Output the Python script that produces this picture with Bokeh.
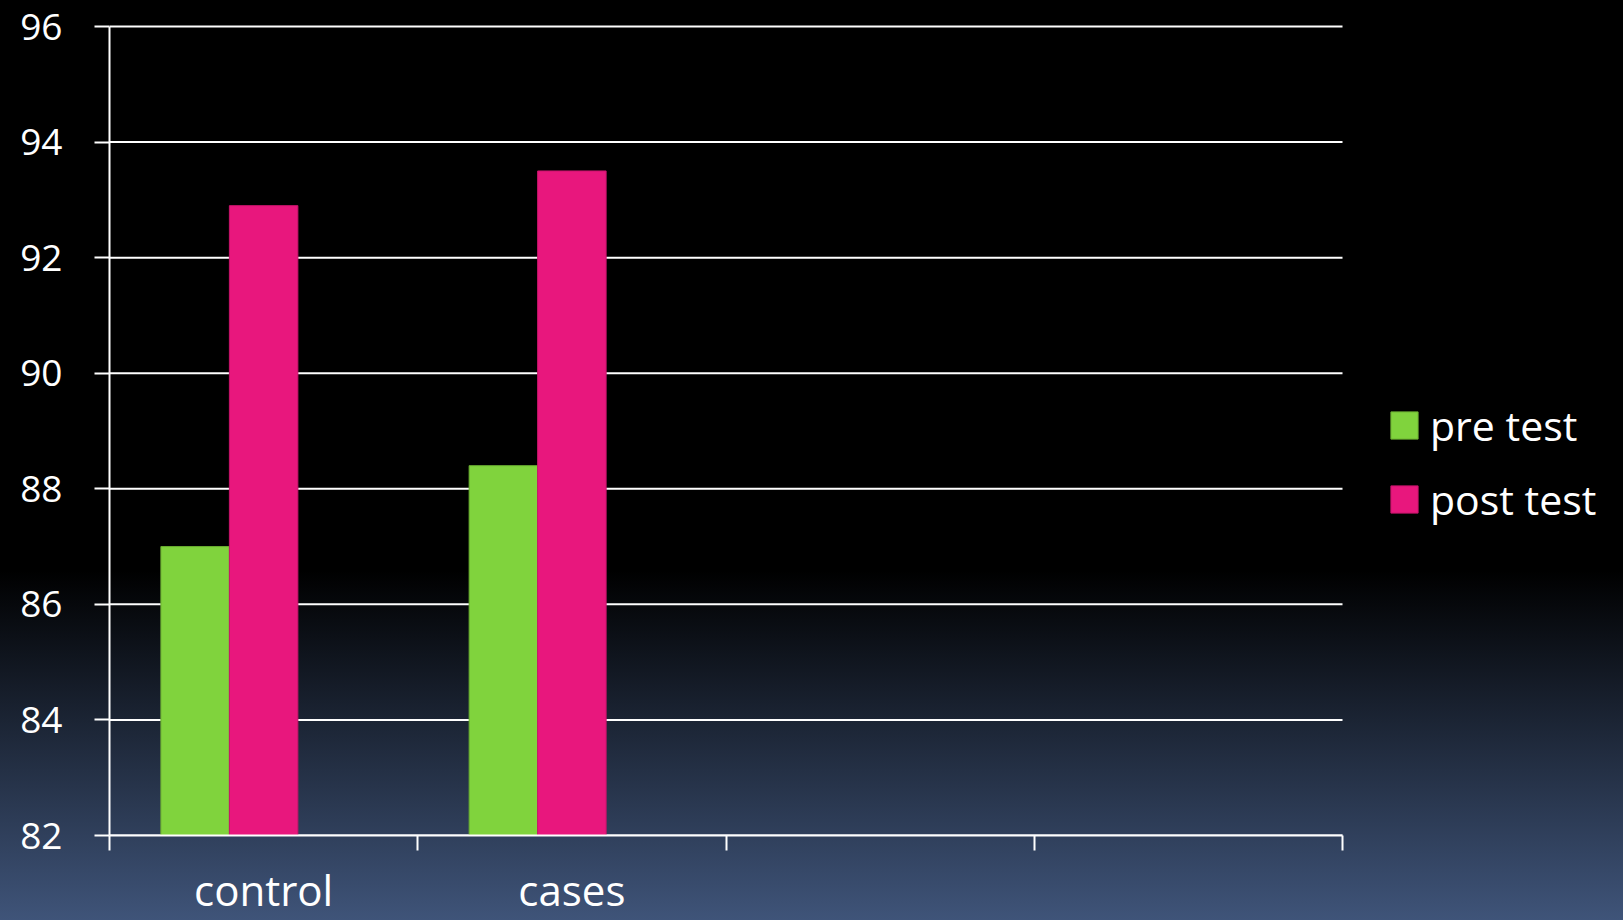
from bokeh.plotting import figure
from bokeh.models import (ColumnDataSource, FixedTicker, Legend, LegendItem, Range1d,
                          GlobalInlineStyleSheet)
from bokeh.embed import file_html
from bokeh.resources import INLINE

# ---- data ----
categories = ["control", "cases", "", ""]
series_names = ["pre test", "post test"]
pre_test = [87.0, 88.4]
post_test = [92.9, 93.5]
y_ticks = [82, 84, 86, 88, 90, 92, 94, 96]

# ---- layout/style ----
FONT = "Open Sans"
GREEN = "#80d33d"
PINK = "#e8177d"
W, H = 1623, 920
LEFT, RIGHT_AXIS_END, TOP, BOTTOM = 109, 1342, 24, 837
n_cat = len(categories)
slot = 1 / 4.5            # 3 series slots + 150% gap
x_centers = [i + 0.5 for i in range(n_cat)]
n_data = len(pre_test)

# frame spans to right edge (room for legend); axis/grid stop at last category
x_end = n_cat * (W - LEFT) / (RIGHT_AXIS_END - LEFT)
y_span = y_ticks[-1] - y_ticks[0]
y_end = y_ticks[-1] + y_span * 2 / (BOTTOM - TOP - 2)

src = ColumnDataSource(dict(
    x_pre=[c - slot for c in x_centers[:n_data]],
    x_post=x_centers[:n_data],
    pre=pre_test,
    post=post_test,
))
grid_src = ColumnDataSource(dict(y=y_ticks, x0=[0] * len(y_ticks), x1=[n_cat] * len(y_ticks)))

page_css = GlobalInlineStyleSheet(css="""
html { height: 100%; overflow: hidden;
       background: linear-gradient(to bottom, #000000 0%, #000000 62%, #3f5479 100%); }
body { overflow: hidden; background: transparent; }
""")

p = figure(width=W, height=H,
           x_range=Range1d(0, x_end), y_range=Range1d(y_ticks[0], y_end),
           output_backend="svg", toolbar_location=None,
           min_border_left=LEFT, min_border_right=0,
           min_border_top=TOP, min_border_bottom=H - BOTTOM)
p.stylesheets = [page_css]

p.border_fill_color = None
p.background_fill_color = None
p.outline_line_color = None
p.xgrid.grid_line_color = None
p.ygrid.grid_line_color = None

# horizontal grid lines, only across the category area
p.segment(x0="x0", x1="x1", y0="y", y1="y", source=grid_src,
          line_color="white", line_width=2)

r_pre = p.vbar(x="x_pre", top="pre", bottom=y_ticks[0], width=slot, source=src,
               fill_color=GREEN, line_color="#6aae31", line_width=1)
r_post = p.vbar(x="x_post", top="post", bottom=y_ticks[0], width=slot, source=src,
                fill_color=PINK, line_color="#c8146c", line_width=1)

# y axis
yax = p.yaxis[0]
yax.bounds = (y_ticks[0], y_ticks[-1])
yax.ticker = FixedTicker(ticks=y_ticks)
yax.axis_line_color = "white"
yax.axis_line_width = 2
yax.major_tick_line_color = "white"
yax.major_tick_line_width = 2
yax.major_tick_out = 15
yax.major_tick_in = 0
yax.minor_tick_line_color = None
yax.major_label_text_color = "white"
yax.major_label_text_font = FONT
yax.major_label_text_font_size = "37px"
yax.major_label_standoff = 32

# x axis: labels at category centers, ticks at boundaries
xax = p.xaxis[0]
xax.bounds = (0, n_cat)
xax.ticker = FixedTicker(ticks=x_centers, minor_ticks=list(range(n_cat + 1)))
xax.major_label_overrides = {c: lab for c, lab in zip(x_centers, categories)}
xax.axis_line_color = "white"
xax.axis_line_width = 2
xax.major_tick_line_color = None
xax.major_tick_out = 0
xax.major_tick_in = 0
xax.minor_tick_line_color = "white"
xax.minor_tick_line_width = 2
xax.minor_tick_out = 15
xax.minor_tick_in = 0
xax.major_label_text_color = "white"
xax.major_label_text_font = FONT
xax.major_label_text_font_size = "42px"
xax.major_label_standoff = 10

legend = Legend(items=[LegendItem(label=series_names[0], renderers=[r_pre]),
                       LegendItem(label=series_names[1], renderers=[r_post])],
                location=(1278, 308),
                glyph_width=34, glyph_height=34, label_height=34,
                spacing=18, padding=0, margin=0, label_standoff=9,
                label_text_color="white", label_text_font=FONT,
                label_text_font_size="41px",
                background_fill_alpha=0, border_line_color=None)
p.add_layout(legend)

open("out.html", "w").write(file_html(p, INLINE))
